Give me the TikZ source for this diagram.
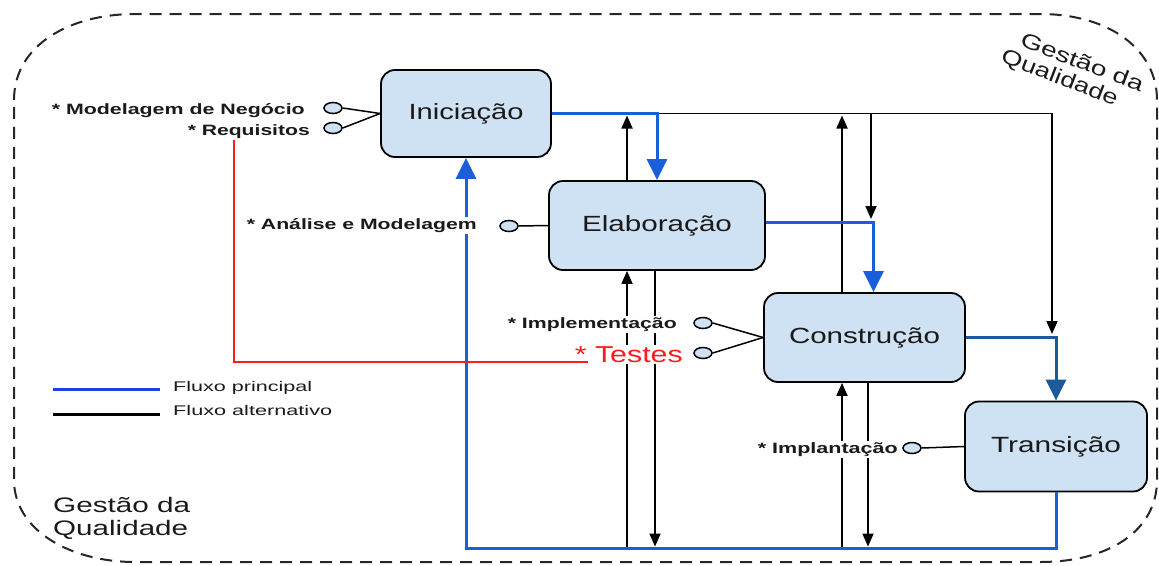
\documentclass[tikz,border=0pt]{standalone}
\usepackage{fontspec}
\setmainfont{Liberation Sans}
\usepackage{graphicx}
\usetikzlibrary{arrows.meta,shapes.geometric,calc}
\definecolor{phasefill}{HTML}{CFE2F3}
\definecolor{mainblue}{HTML}{1A5FD9}
\definecolor{deepblue}{HTML}{1C5A9C}
\definecolor{legblue}{HTML}{1E3FE6}
\definecolor{testred}{HTML}{FF1A1A}
\definecolor{inkgray}{HTML}{1A1A1A}
% stretch a text horizontally to a given width, keeping its height
\newcommand{\fitto}[2]{\resizebox{#1}{\height}{#2}}
\tikzset{
  phase/.style={draw, line width=1.8pt, fill=phasefill, rounded corners=14pt,
    inner sep=0pt, text=inkgray, font=\fontsize{22}{26}\selectfont},
  port/.style={ellipse, draw, line width=1.5pt, fill=phasefill,
    minimum width=18pt, minimum height=11pt, inner sep=0pt},
  plink/.style={line width=1.5pt},
  disc/.style={font=\bfseries\fontsize{15}{18}\selectfont, text=inkgray,
    fill=white, inner sep=1.5pt, anchor=base east},
  mainflow/.style={draw=mainblue, line width=3pt, -{Triangle[width=20pt,length=21pt]}},
  altflow/.style={draw=black, line width=1.8pt, -{Triangle[width=11pt,length=13pt]}},
  legtext/.style={font=\fontsize{14}{17}\selectfont, anchor=base west,
    inner sep=0pt, text=inkgray},
  qtext/.style={font=\fontsize{21}{23}\selectfont, anchor=base west,
    inner sep=0pt, text=inkgray, align=left},
}
\begin{document}
\begin{tikzpicture}[x=1pt,y=-1pt]
\useasboundingbox (0,0) rectangle (1159,565);

% quality management boundary
\draw[line width=2pt, dash pattern=on 12pt off 8pt, black!85]
  (14,100) .. controls (14,45) and (70,14) .. (135,14) -- (1040,14)
  .. controls (1110,14) and (1157,50) .. (1157,100) -- (1157,480)
  .. controls (1157,530) and (1110,562) .. (1040,562) -- (135,562)
  .. controls (70,562) and (14,530) .. (14,480) -- cycle;

% phases
\node[phase, minimum width=170pt, minimum height=87pt] (ini) at (466,113.5) {\fitto{115pt}{Iniciação}};
\node[phase, minimum width=216pt, minimum height=89pt] (ela) at (657,225.5) {\fitto{150pt}{Elaboração}};
\node[phase, minimum width=201pt, minimum height=89pt] (con) at (864.5,337.5) {\fitto{151pt}{Construção}};
\node[phase, minimum width=182pt, minimum height=90pt] (tra) at (1056,446.5) {\fitto{130pt}{Transição}};

% discipline ports
\node[port] (p1) at (333,108) {};
\node[port] (p2) at (333,128) {};
\node[port] (p3) at (509,226) {};
\node[port] (p4) at (703,323) {};
\node[port] (p5) at (703,353) {};
\node[port] (p6) at (912,448) {};
\draw[plink] (p1.east) -- (ini.west);
\draw[plink] (p2.east) -- (ini.west);
\draw[plink] (p3.east) -- (ela.west);
\draw[plink] (p4.east) -- (con.west);
\draw[plink] (p5.east) -- (con.west);
\draw[plink] (p6.east) -- (tra.west);

% junction points
\coordinate (j1) at (871,219);
\coordinate (j2) at (1052,334);
\coordinate (bl) at (0,548);
\coordinate (rl) at (234,0);

% alternative flow
\draw[altflow] (ini.east) -| (j2);
\draw[altflow] (ini.east -| j1) -- (j1);
\draw[altflow, shorten >=2pt] ([xshift=-30pt]ela.north) -- ([xshift=-30pt]ela.north |- ini.east);
\draw[altflow, shorten >=2pt] ([xshift=-22.5pt]con.north) -- ([xshift=-22.5pt]con.north |- ini.east);
\draw[altflow] ([xshift=-30pt]ela.south |- bl) -- ([xshift=-30pt]ela.south);
\draw[altflow, shorten >=1.5pt] ([xshift=-2pt]ela.south) -- ([xshift=-2pt]ela.south |- bl);
\draw[altflow] ([xshift=-22.5pt]con.south |- bl) -- ([xshift=-22.5pt]con.south);
\draw[altflow, shorten >=1.5pt] ([xshift=3.5pt]con.south) -- ([xshift=3.5pt]con.south |- bl);

% main flow
\draw[mainflow] (ini.east) -| (ela.north);
\draw[mainflow] ([yshift=3.5pt]ela.east) -| ([xshift=9pt]con.north);
\draw[mainflow, draw=deepblue] (con.east) -| (tra.north);
\draw[mainflow] (tra.south) |- (ini.south |- bl) -- (ini.south);

% disciplines
\node[disc] (mod) at (306.5,114) {\fitto{253pt}{* Modelagem de Negócio}};
\node[disc] (req) at (311.5,135) {\fitto{122pt}{* Requisitos}};
\node[disc] (ana) at (478.5,229) {\fitto{230pt}{* Análise e Modelagem}};
\node[disc] (imp) at (678.5,328) {\fitto{169pt}{* Implementação}};
\node[disc, font=\fontsize{23}{27}\selectfont, text=testred] (tst) at (684.5,362) {\fitto{108pt}{* Testes}};
\node[disc] (ipl) at (899.5,453) {\fitto{140pt}{* Implantação}};

% requirements feed the tests
\draw[testred, line width=2pt] (req.south -| rl) |- ([xshift=15pt]tst.base west);

% legend
\coordinate (lg1a) at (53,389);
\coordinate (lg1b) at (160,389);
\coordinate (lg2a) at (53,414);
\coordinate (lg2b) at (160,414);
\draw[legblue, line width=3pt] (lg1a) -- (lg1b);
\draw[black, line width=3pt] (lg2a) -- (lg2b);
\node[legtext] (lt1) at (173,391) {\fitto{139pt}{Fluxo principal}};
\node[legtext] (lt2) at (173,415.5) {\fitto{159pt}{Fluxo alternativo}};

% boundary captions (anchored on the baseline of their last line)
\node[qtext] (gq1) at (53,535) {\fitto{137pt}{Gestão da}\\\fitto{135pt}{Qualidade}};
\node[qtext, rotate=-21] (gq2) at (1011,66) {\fitto{130pt}{Gestão da}\\[-1pt]\hspace*{-12pt}\fitto{123pt}{Qualidade}};
\end{tikzpicture}
\end{document}
